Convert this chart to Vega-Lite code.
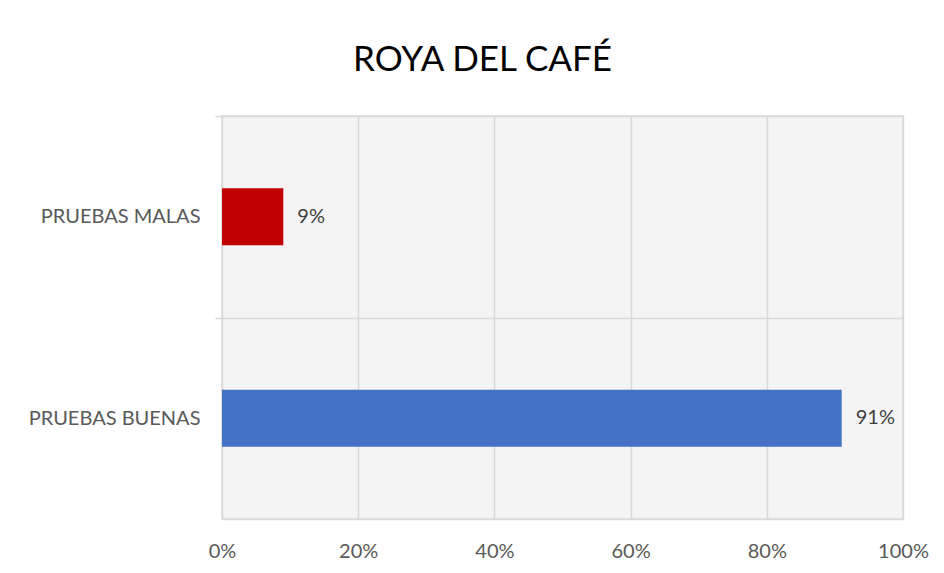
{
  "$schema": "https://vega.github.io/schema/vega-lite/v6.json",
  "width": 681,
  "height": 403,
  "autosize": {"type": "none"},
  "padding": {"left": 222, "top": 116, "right": 41, "bottom": 54},
  "background": "white",
  "title": {
    "text": "ROYA DEL CAFÉ",
    "font": "Lato",
    "fontSize": 35,
    "fontWeight": "normal",
    "color": "#000000",
    "anchor": "middle",
    "frame": "group",
    "dx": -80,
    "offset": 37
  },
  "config": {
    "view": {"fill": "#f4f4f4", "stroke": "#d9d9d9", "strokeWidth": 1.5}
  },
  "data": {
    "values": [
      {"categoria": "PRUEBAS MALAS", "valor": 0.09},
      {"categoria": "PRUEBAS BUENAS", "valor": 0.91}
    ]
  },
  "encoding": {
    "y": {
      "field": "categoria",
      "type": "nominal",
      "sort": ["PRUEBAS MALAS", "PRUEBAS BUENAS"],
      "scale": {"paddingInner": 0.717, "paddingOuter": 0.358},
      "axis": {
        "title": null,
        "bandPosition": 0.5,
        "tickOffset": -100.75,
        "labelOffset": 100.75,
        "grid": true,
        "gridColor": "#d9d9d9",
        "gridWidth": 1.5,
        "ticks": true,
        "tickColor": "#d9d9d9",
        "tickWidth": 1.5,
        "tickSize": 7,
        "domain": false,
        "labelFont": "Lato",
        "labelFontSize": 20,
        "labelColor": "#595959",
        "labelPadding": 15
      }
    },
    "x": {
      "field": "valor",
      "type": "quantitative",
      "scale": {"domain": [0, 1]},
      "axis": {
        "title": null,
        "format": "%",
        "values": [0, 0.2, 0.4, 0.6, 0.8, 1],
        "grid": true,
        "gridColor": "#d9d9d9",
        "gridWidth": 1.5,
        "ticks": false,
        "domain": true,
        "domainColor": "#d9d9d9",
        "domainWidth": 1.5,
        "labelFlush": false,
        "labelFont": "Lato",
        "labelFontSize": 20,
        "labelColor": "#595959",
        "labelPadding": 22
      }
    }
  },
  "layer": [
    {
      "mark": {"type": "bar"},
      "encoding": {
        "color": {
          "field": "categoria",
          "type": "nominal",
          "scale": {"domain": ["PRUEBAS MALAS", "PRUEBAS BUENAS"], "range": ["#c00000", "#4472c4"]},
          "legend": null
        }
      }
    },
    {
      "mark": {"type": "text", "align": "left", "baseline": "middle", "dx": 14, "font": "Lato", "fontSize": 20, "color": "#404040"},
      "encoding": {
        "text": {"field": "valor", "type": "quantitative", "format": ".0%"}
      }
    }
  ]
}
